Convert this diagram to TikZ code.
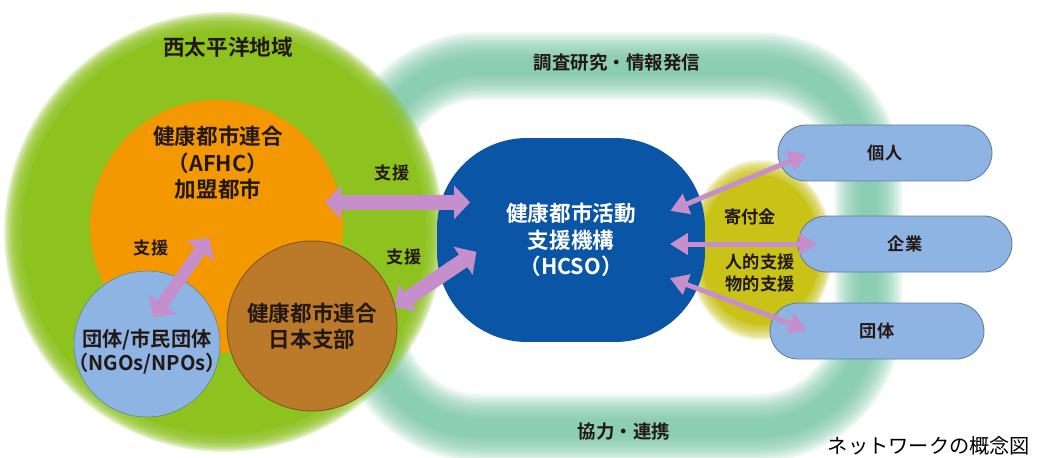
\documentclass[tikz,border=0pt]{standalone}
\usepackage{fontspec}
\setmainfont{Noto Sans CJK JP}[BoldFont={Noto Sans CJK JP Bold}]
\usetikzlibrary{arrows.meta,calc}

\definecolor{regiongreen}{RGB}{141,194,31}
\definecolor{ringgreen}{RGB}{112,196,160}
\definecolor{afhcorange}{RGB}{243,152,0}
\definecolor{branchbrown}{RGB}{186,122,42}
\definecolor{paleblue}{RGB}{141,180,226}
\definecolor{hcsoblue}{RGB}{10,85,165}
\definecolor{giftyellow}{RGB}{200,195,22}
\definecolor{arrowpink}{RGB}{198,143,204}
\definecolor{inkblack}{RGB}{35,24,21}

\tikzset{
  bigtext/.style={font=\bfseries\fontsize{12.3}{15}\selectfont, text=inkblack, align=center},
  smalltext/.style={font=\bfseries\fontsize{9.8}{12}\selectfont, text=inkblack, align=center},
  orgcircle/.style={circle, inner sep=0pt, outer sep=0pt},
  donor/.style={fill=paleblue, draw=paleblue!70!black, line width=0.5pt, rounded corners=0.56cm,
    minimum width=4.28cm, minimum height=1.12cm, inner sep=0pt, outer sep=0pt, smalltext},
  supportarrow/.style={draw=arrowpink, line width=0.3cm,
    {Triangle[length=0.32cm,width=0.66cm]}-{Triangle[length=0.32cm,width=0.66cm]}},
  giftarrow/.style={draw=arrowpink, line width=0.1cm,
    {Triangle[length=0.36cm,width=0.42cm]}-{Triangle[length=0.36cm,width=0.42cm]}},
}

\begin{document}
\begin{tikzpicture}[x=0.02cm,y=-0.02cm]
    \useasboundingbox[fill=white] (0,0) rectangle (1038,457);
    %% Ring of research and cooperation
    \foreach \w in {1.35,1.25,...,0.25}
        \draw[ringgreen, line width=\w cm, opacity=.13, rounded corners=2.2cm] (370,66) rectangle (868,428);
    \node[font=\bfseries\fontsize{10.5}{12}\selectfont, text=inkblack] (research) at (617,63) {調査研究・情報発信};
    \node[font=\bfseries\fontsize{10.5}{12}\selectfont, text=inkblack] (cooperation) at (624,432) {協力・連携};
    %% Western Pacific region
    \coordinate (west) at (224,232);
    \foreach \r in {220,218.5,...,205}
        \fill[regiongreen, opacity=.2] (west) circle (\r);
    \node[orgcircle, fill=regiongreen, minimum size=8.1cm] (region) at (west) {};
    \node[bigtext] (regiontitle) at (228,47) {西太平洋地域};
    %% Donations
    \coordinate (gift) at (760,250);
    \foreach \s in {1.08,1.05,...,0.9}
        \fill[giftyellow, opacity=.25] (gift) ellipse ({67*\s} and {83*\s});
    \fill[giftyellow] (gift) ellipse (60 and 75);
    %% HCSO
    \node[fill=hcsoblue, rounded corners=1.8cm, minimum width=5.36cm, minimum height=4.08cm,
        inner sep=0pt, outer sep=0pt, bigtext, text=white] (hcso) at (571,240) {健康都市活動\\支援機構\\（HCSO）};
    \foreach \name/\px/\py/\txt in {kojin/885/153/個人, kigyo/905/244/企業, dantai/877/331/団体}
        \node[donor] (\name) at (\px,\py) {\txt};
    %% Circles
    \node[orgcircle, fill=afhcorange, minimum size=5.06cm] (afhc) at (216.5,226.5) {};
    \node[bigtext] (afhctext) at (218,163) {健康都市連合\\（AFHC）\\加盟都市};
    \node[orgcircle, fill=paleblue, draw=paleblue!70!black, line width=0.3pt, minimum size=2.92cm] (ngo) at (147,344) {};
    \node[bigtext, font=\bfseries\fontsize{11.5}{13.5}\selectfont] (ngotext) at (147,352) {団体/市民団体\\（NGOs/NPOs）};
    \node[orgcircle, fill=branchbrown, draw=branchbrown!70!black, line width=0.5pt, minimum size=3.4cm, bigtext] (branch) at (312,326) {健康都市連合\\日本支部};
    %% Support arrows
    \draw[supportarrow, shorten <=-0.31cm, shorten >=-0.66cm] (afhc.11) -- (afhc.11 -| hcso.west);
    \draw[supportarrow, shorten >=-0.95cm] (branch.13) -- (hcso.196);
    \draw[supportarrow, line width=0.24cm, shorten <=-1.01cm, shorten >=0.32cm] (ngo.63) -- (afhc.235);
    \draw[giftarrow, shorten <=-0.75cm, shorten >=-0.62cm] (hcso.18) -- (kojin.187);
    \draw[giftarrow, shorten <=-0.7cm, shorten >=-0.38cm] (kigyo.west -| hcso.east) -- (kigyo.west);
    \draw[giftarrow, shorten <=-0.75cm, shorten >=-0.79cm] (hcso.339) -- (dantai.172);
    %% Labels
    \node[smalltext] (aid1) at (392,173) {支援};
    \node[smalltext] (aid2) at (404,257) {支援};
    \node[smalltext] (aid3) at (151,248) {支援};
    \node[smalltext] (gifttext) at (750,217) {寄付金};
    \node[smalltext] (helptext) at (760,273) {人的支援\\物的支援};
    \node[font=\fontsize{11.5}{13}\selectfont, text=black] (caption) at (929,446) {ネットワークの概念図};
\end{tikzpicture}
\end{document}
